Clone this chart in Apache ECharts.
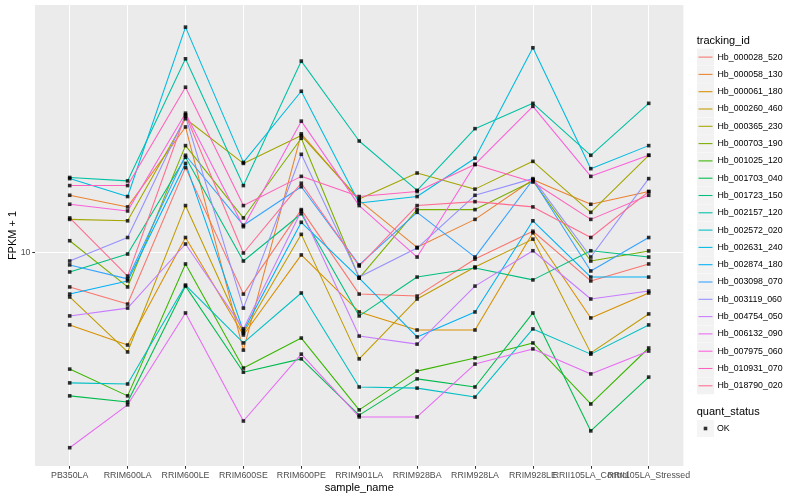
<!DOCTYPE html>
<html><head><meta charset="utf-8">
<script src="https://cdn.jsdelivr.net/npm/echarts@6/dist/echarts.min.js"></script>
<style>html,body{margin:0;padding:0;background:#fff}#c{width:800px;height:500px}</style>
</head><body><div id="c"></div>
<script>
const categories = ['PB350LA','RRIM600LA','RRIM600LE','RRIM600SE','RRIM600PE','RRIM901LA','RRIM928BA','RRIM928LA','RRIM928LE','RRII105LA_Control','RRII105LA_Stressed'];
const trackingIds = ['Hb_000028_520','Hb_000058_130','Hb_000061_180','Hb_000260_460','Hb_000365_230','Hb_000703_190','Hb_001025_120','Hb_001703_040','Hb_001723_150','Hb_002157_120','Hb_002572_020','Hb_002631_240','Hb_002874_180','Hb_003098_070','Hb_003119_060','Hb_004754_050','Hb_006132_090','Hb_007975_060','Hb_010931_070','Hb_018790_020'];
const colors = ['#F8766D','#EA8331','#D89000','#C09B00','#A3A500','#7CAE00','#39B600','#00BB4E','#00BF7D','#00C1A3','#00BFC4','#00BAE0','#00B0F6','#35A2FF','#9590FF','#C77CFF','#E76BF3','#FA62DB','#FF62BC','#FF6C91'];

const Hb_000028_520 = [8.20, 7.43, 16.3, 7.87, 12.8, 7.87, 7.78, 9.63, 11.3, 8.49, 9.36];
const Hb_000058_130 = [13.9, 13.0, 20.6, 5.70, 19.8, 13.5, 10.3, 12.1, 15.2, 13.2, 14.2];
const Hb_000061_180 = [6.59, 5.87, 10.9, 6.22, 9.86, 7.10, 6.40, 6.40, 11.2, 6.86, 7.92];
const Hb_000260_460 = [7.74, 5.64, 13.1, 6.29, 11.1, 5.42, 7.65, 9.20, 10.8, 5.61, 7.02];
const Hb_000365_230 = [12.1, 12.0, 21.6, 16.7, 19.6, 13.6, 15.8, 14.4, 16.9, 12.6, 17.5];
const Hb_000703_190 = [10.7, 8.20, 18.5, 12.2, 19.3, 8.63, 12.8, 12.8, 15.1, 9.52, 10.09];
const Hb_001025_120 = [5.11, 4.38, 9.36, 5.14, 6.11, 4.04, 5.05, 5.45, 5.94, 4.18, 5.77];
const Hb_001703_040 = [4.38, 4.23, 8.24, 5.02, 5.42, 3.92, 4.83, 4.61, 7.06, 3.58, 4.88];
const Hb_001723_150 = [8.94, 9.91, 17.3, 9.52, 12.5, 6.94, 8.68, 9.15, 8.54, 10.1, 9.74];
const Hb_002157_120 = [15.4, 15.1, 30.5, 14.7, 30.1, 19.0, 14.3, 20.4, 23.6, 17.5, 23.6];
const Hb_002572_020 = [4.72, 4.69, 8.29, 5.94, 7.92, 4.61, 4.58, 4.35, 6.44, 5.57, 6.59];
const Hb_002631_240 = [15.3, 13.8, 36.6, 16.8, 25.3, 13.3, 13.8, 17.2, 32.5, 16.2, 18.5];
const Hb_002874_180 = [7.87, 8.49, 16.7, 6.36, 11.9, 8.63, 6.15, 7.10, 12.0, 8.68, 8.68];
const Hb_003098_070 = [9.31, 8.59, 17.5, 11.7, 14.6, 9.31, 12.6, 9.74, 15.2, 8.99, 10.9];
const Hb_003119_060 = [9.52, 10.9, 21.9, 7.26, 17.6, 8.68, 10.26, 13.9, 15.3, 9.74, 15.3];
const Hb_004754_050 = [6.94, 7.26, 10.5, 6.44, 12.7, 6.18, 5.90, 8.24, 10.1, 7.65, 8.01];
const Hb_006132_090 = [3.25, 4.16, 7.06, 3.79, 5.57, 3.88, 3.88, 5.26, 5.74, 4.97, 5.67];
const Hb_007975_060 = [13.2, 12.7, 22.3, 11.6, 21.3, 13.1, 9.74, 16.6, 23.2, 15.5, 17.5];
const Hb_010931_070 = [14.7, 14.7, 25.9, 13.1, 15.5, 13.8, 14.2, 16.6, 15.0, 12.1, 13.9];
const Hb_018790_020 = [12.2, 8.73, 22.1, 9.97, 14.9, 9.25, 13.1, 13.4, 13.0, 10.9, 14.2];

const yTicks = [10];
const quantStatus = ['OK'];

const seriesValues = [Hb_000028_520, Hb_000058_130, Hb_000061_180, Hb_000260_460, Hb_000365_230, Hb_000703_190, Hb_001025_120, Hb_001703_040, Hb_001723_150, Hb_002157_120, Hb_002572_020, Hb_002631_240, Hb_002874_180, Hb_003098_070, Hb_003119_060, Hb_004754_050, Hb_006132_090, Hb_007975_060, Hb_010931_070, Hb_018790_020];

const FONT = '"Liberation Sans", Arial, Helvetica, sans-serif';
const yMin = 2.925, yMax = 41.57;

const lineSeries = trackingIds.map((id, k) => ({
  name: id, type: 'line', xAxisIndex: 1, yAxisIndex: 1,
  data: seriesValues[k], symbol: 'none', showSymbol: false,
  lineStyle: {color: colors[k], width: 1.07}, itemStyle: {color: colors[k], borderWidth: 0},
  emphasis: {disabled: true}, silent: true, z: 2
}));
const pointData = [];
seriesValues.forEach(vals => vals.forEach((v, i) => pointData.push([categories[i], v])));
const pointSeries = {
  name: quantStatus[0], type: 'scatter', xAxisIndex: 1, yAxisIndex: 1,
  data: pointData, symbol: 'rect', symbolSize: 3.6,
  itemStyle: {color: '#000000', borderWidth: 0}, emphasis: {disabled: true}, silent: true, z: 3
};

const chart = echarts.init(document.getElementById('c'), null, {renderer: 'canvas'});
chart.setOption({
  animation: false,
  backgroundColor: '#FFFFFF',
  textStyle: {fontFamily: FONT},
  title: [
    {text: 'tracking_id', left: 696.7, top: 34.2, padding: 0, textStyle: {fontSize: 11, fontWeight: 'normal', color: '#000000', fontFamily: FONT, lineHeight: 13}},
    {text: 'quant_status', left: 696.7, top: 405.5, padding: 0, textStyle: {fontSize: 11, fontWeight: 'normal', color: '#000000', fontFamily: FONT, lineHeight: 13}}
  ],
  grid: [
    {left: 35, top: 5, width: 648.4, height: 461, show: true, backgroundColor: '#EBEBEB', borderWidth: 0, containLabel: false, outerBoundsMode: 'none'},
    {left: 69.7, top: 5, width: 579, height: 461, show: false, containLabel: false, outerBoundsMode: 'none'}
  ],
  xAxis: [
    {type: 'value', gridIndex: 0, min: 0, max: 1, show: false},
    {type: 'category', gridIndex: 1, data: categories, boundaryGap: false,
     axisLine: {show: false},
     axisTick: {show: true, length: 2.75, lineStyle: {color: '#333333', width: 1.07}},
     axisLabel: {interval: 0, fontSize: 8.8, color: '#4D4D4D', margin: 5, fontFamily: FONT, hideOverlap: false},
     splitLine: {show: true, lineStyle: {color: '#FFFFFF', width: 1.07}},
     name: 'sample_name', nameLocation: 'middle', nameGap: 16.5, nameMoveOverlap: false,
     nameTextStyle: {fontSize: 11, color: '#000000', fontFamily: FONT}}
  ],
  yAxis: [
    {type: 'log', gridIndex: 0, logBase: 10, min: yMin, max: yMax,
     axisLine: {show: false},
     axisTick: {show: true, customValues: yTicks, length: 2.75, lineStyle: {color: '#333333', width: 1.07}},
     axisLabel: {customValues: yTicks, fontSize: 8.8, color: '#4D4D4D', margin: 4.5, fontFamily: FONT},
     splitLine: {show: true, lineStyle: {color: '#FFFFFF', width: 1.07}},
     name: 'FPKM + 1', nameLocation: 'middle', nameGap: 17, nameRotate: 90, nameMoveOverlap: false,
     nameTextStyle: {fontSize: 11, color: '#000000', fontFamily: FONT}},
    {type: 'log', gridIndex: 1, logBase: 10, min: yMin, max: yMax, show: false}
  ],
  legend: [
    {orient: 'vertical', left: 697, top: 48.6, padding: 0, itemWidth: 17, itemHeight: 17, itemGap: 0.3,
     icon: 'rect', itemStyle: {color: '#F2F2F2', borderWidth: 0}, formatter: () => '', selectedMode: false,
     data: trackingIds, textStyle: {fontSize: 8.8, lineHeight: 17}},
    {orient: 'vertical', left: 698.5, top: 48.6, padding: 0, itemWidth: 14, itemHeight: 1.07, itemGap: 0.3,
     icon: 'rect', itemStyle: {borderWidth: 0}, selectedMode: false, data: trackingIds,
     textStyle: {fontSize: 8.8, lineHeight: 17, color: '#000000', fontFamily: FONT}},
    {orient: 'vertical', left: 697, top: 420, padding: 0, itemWidth: 17, itemHeight: 17,
     icon: 'rect', itemStyle: {color: '#F2F2F2', borderWidth: 0}, formatter: () => '', selectedMode: false,
     data: quantStatus, textStyle: {fontSize: 8.8, lineHeight: 17}},
    {orient: 'vertical', left: 703.7, top: 420, padding: 0, itemWidth: 3.6, itemHeight: 3.6,
     icon: 'rect', itemStyle: {color: '#000000', borderWidth: 0}, selectedMode: false, data: quantStatus,
     textStyle: {fontSize: 8.8, lineHeight: 17, color: '#000000', fontFamily: FONT, padding: [0, 0, 0, 4.7]}}
  ],
  series: lineSeries.concat([pointSeries])
});
</script></body></html>
